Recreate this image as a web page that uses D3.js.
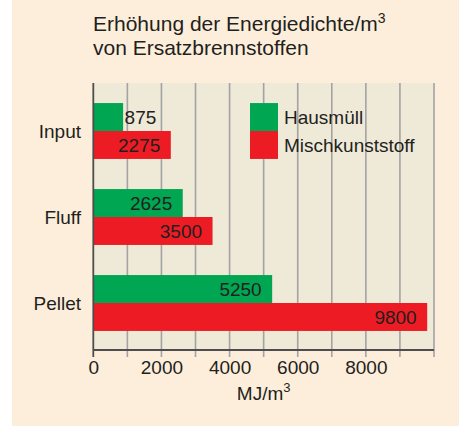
<!DOCTYPE html>
<html>
<head>
<meta charset="utf-8">
<script src="https://cdn.jsdelivr.net/npm/d3@7"></script>
<style>
  html, body { margin: 0; padding: 0; background: #ffffff; }
  text { font-family: "Liberation Sans", Arial, sans-serif; fill: #231f20; }
</style>
</head>
<body>
<div id="chart"></div>
<script>
// Data
const categories = ["Input", "Fluff", "Pellet"];
const seriesNames = ["Hausmüll", "Mischkunststoff"];
const hausmuell = [875, 2625, 5250];
const mischkunststoff = [2275, 3500, 9800];
const tickLabels = [0, 2000, 4000, 6000, 8000];
const gridValues = [0, 1000, 2000, 3000, 4000, 5000, 6000, 7000, 8000, 9000, 10000];

const colors = ["#00a651", "#ed1c24"];
const FS = "19px";

const W = 468, H = 426;
const svg = d3.select("#chart").append("svg")
  .attr("width", W).attr("height", H);

// beige panel
svg.append("rect")
  .attr("x", 12).attr("y", 0).attr("width", 447).attr("height", H)
  .attr("fill", "#fdeedb");

const plot = {left: 93.3, right: 434, top: 83, bottom: 350};

const x = d3.scaleLinear().domain([0, 10000]).range([plot.left, plot.right]);
const y = d3.scaleBand().domain(categories)
  .range([88, 346]).paddingInner(0.35).paddingOuter(0.175);
const ySub = d3.scaleBand().domain(seriesNames).range([0, y.bandwidth()]);

// plot background
svg.append("rect")
  .attr("x", plot.left).attr("y", plot.top)
  .attr("width", plot.right - plot.left).attr("height", plot.bottom - plot.top)
  .attr("fill", "#efe9d8");

// vertical grid lines
svg.append("g").selectAll("line")
  .data(gridValues.slice(1))
  .enter().append("line")
  .attr("x1", d => x(d)).attr("x2", d => x(d))
  .attr("y1", plot.top).attr("y2", plot.bottom + 7)
  .attr("stroke", "#a3a3a3").attr("stroke-width", 1.6);

// title
const title = svg.append("text")
  .attr("x", 93).attr("y", 31)
  .style("font-size", "21px");
title.append("tspan").text("Erhöhung der Energiedichte/m");
title.append("tspan").text("3").attr("dy", -8).style("font-size", "14px");
svg.append("text")
  .attr("x", 93).attr("y", 55)
  .style("font-size", "21px")
  .text("von Ersatzbrennstoffen");

// bars
const rows = categories.map((c, i) => ({cat: c, values: [hausmuell[i], mischkunststoff[i]]}));
const groups = svg.append("g").selectAll("g")
  .data(rows).enter().append("g")
  .attr("transform", d => "translate(0," + y(d.cat) + ")");

groups.selectAll("rect")
  .data(d => d.values.map((v, j) => ({key: seriesNames[j], v: v, j: j})))
  .enter().append("rect")
  .attr("x", x(0))
  .attr("y", d => ySub(d.key))
  .attr("width", d => x(d.v) - x(0))
  .attr("height", ySub.bandwidth())
  .attr("fill", d => colors[d.j]);

groups.selectAll("text.val")
  .data(d => d.values.map((v, j) => ({key: seriesNames[j], v: v, j: j})))
  .enter().append("text")
  .attr("class", "val")
  .attr("x", d => d.v < 1500 ? x(d.v) + 1.5 : x(d.v) - 10.5)
  .attr("y", d => ySub(d.key) + ySub.bandwidth() / 2)
  .attr("dy", "0.36em")
  .attr("text-anchor", d => d.v < 1500 ? "start" : "end")
  .style("font-size", FS)
  .text(d => d.v);

// category labels
svg.append("g").selectAll("text")
  .data(categories).enter().append("text")
  .attr("x", 81)
  .attr("y", d => y(d) + y.bandwidth() / 2)
  .attr("dy", "0.38em")
  .attr("text-anchor", "end")
  .style("font-size", FS)
  .text(d => d);

// left axis line
svg.append("line")
  .attr("x1", plot.left).attr("x2", plot.left)
  .attr("y1", plot.top).attr("y2", plot.bottom + 7)
  .attr("stroke", "#4d4d4d").attr("stroke-width", 1.8);

// bottom axis
const xAxis = svg.append("g")
  .attr("transform", "translate(0," + plot.bottom + ")")
  .call(d3.axisBottom(x).tickValues(tickLabels).tickSize(0).tickPadding(11).tickFormat(d3.format("d")));
xAxis.select(".domain").remove();
xAxis.selectAll("text")
  .style("font-size", FS)
  .style("font-family", "'Liberation Sans', Arial, sans-serif")
  .attr("fill", "#231f20");
svg.append("line")
  .attr("x1", plot.left).attr("x2", plot.right)
  .attr("y1", plot.bottom).attr("y2", plot.bottom)
  .attr("stroke", "#4d4d4d").attr("stroke-width", 1.8);

// axis title
const xt = svg.append("text")
  .attr("x", (plot.left + plot.right) / 2).attr("y", 400)
  .attr("text-anchor", "middle")
  .style("font-size", FS);
xt.append("tspan").text("MJ/m");
xt.append("tspan").text("3").attr("dy", -8).style("font-size", "13px");

// legend
const legend = svg.append("g").attr("transform", "translate(250," + y(categories[0]) + ")");
seriesNames.forEach((s, j) => {
  legend.append("rect")
    .attr("x", 0).attr("y", ySub(s))
    .attr("width", 28).attr("height", ySub.bandwidth())
    .attr("fill", colors[j]);
  legend.append("text")
    .attr("x", 34).attr("y", ySub(s) + ySub.bandwidth() / 2)
    .attr("dy", "0.36em")
    .style("font-size", FS)
    .text(s);
});
</script>
</body>
</html>
